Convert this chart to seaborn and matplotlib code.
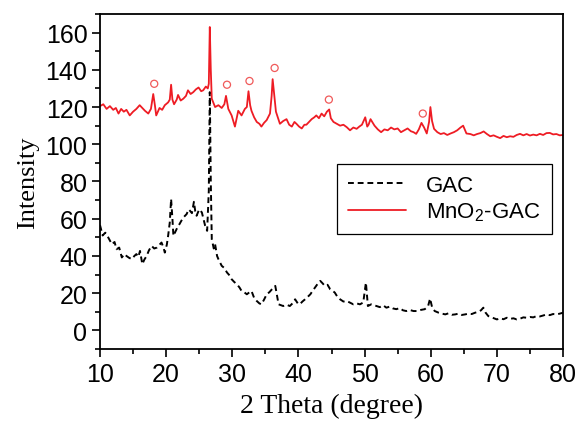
import matplotlib
matplotlib.use("Agg")
import matplotlib.pyplot as plt
import seaborn as sns
import pandas as pd
from matplotlib.ticker import MultipleLocator

# GAC pattern (black dashed)
gac_theta = [10, 10.4, 10.8, 11.25, 11.8, 12.2, 12.5, 12.9, 13.3, 13.7,
             14.0, 14.4, 14.8, 15.2, 15.5, 15.8, 16.05, 16.4, 16.7, 17.05,
             17.4, 17.8, 18.2, 18.6, 19.0, 19.3, 19.6, 19.8, 20.1, 20.3,
             20.55, 20.75, 20.95, 21.1, 21.4, 21.7, 22.0, 22.3, 22.7, 23.1,
             23.4, 23.6, 23.9, 24.2, 24.4, 24.6, 25.0, 25.4, 25.7, 25.9,
             26.2, 26.45, 26.6, 26.75, 26.9, 27.2, 27.4, 27.7, 27.9, 28.4,
             28.8, 29.2, 29.6, 29.9, 30.3, 30.7, 31.1, 31.4, 31.8, 32.2,
             32.6, 32.9, 33.3, 33.7, 34.1, 34.4, 34.8, 35.2, 35.6, 36.0,
             36.5, 36.8, 37.0, 37.4, 37.7, 38.2, 38.7, 39.1, 39.5, 39.9,
             40.2, 40.6, 41.0, 41.4, 41.8, 42.1, 42.5, 42.9, 43.3, 43.6,
             44.0, 44.4, 44.8, 45.1, 45.5, 45.9, 46.3, 46.8, 47.3, 47.8,
             48.3, 48.8, 49.3, 49.8, 50.2, 50.5, 51.0, 51.4, 51.8, 52.3,
             52.8, 53.3, 53.8, 54.3, 54.8, 55.3, 55.8, 56.3, 56.8, 57.4,
             57.9, 58.5, 59.1, 59.6, 59.9, 60.2, 60.6, 61.2, 61.7, 62.2,
             62.7, 63.2, 63.7, 64.2, 64.7, 65.2, 65.7, 66.2, 66.7, 67.2,
             67.6, 67.95, 68.3, 68.7, 69.2, 69.6, 70.0, 70.5, 71.0, 71.5,
             72.0, 72.5, 73.0, 73.5, 74.0, 74.5, 75.0, 75.5, 76.0, 76.5,
             77.0, 77.5, 78.0, 78.5, 79.0, 79.5, 80.0]
gac_intensity = [56.6, 51.0, 52.5, 49.9, 46.3, 47.5, 43.6, 44.5, 39.2, 41.0,
                 40.0, 39.0, 38.3, 40.0, 41.0, 39.5, 42.7, 35.6, 38.0, 40.0,
                 43.0, 45.4, 44.0, 44.5, 46.0, 47.2, 44.5, 41.8, 46.0, 50.8,
                 58.0, 70.6, 60.0, 50.8, 53.0, 55.3, 57.0, 58.9, 61.0, 62.5,
                 65.0, 64.3, 63.0, 69.1, 64.0, 61.6, 65.0, 63.4, 59.0, 56.2,
                 53.5, 75.0, 128.0, 80.0, 49.0, 44.0, 46.3, 40.0, 38.3, 34.7,
                 33.5, 31.1, 29.5, 27.5, 26.0, 24.8, 23.0, 21.2, 20.5, 19.4,
                 20.5, 21.2, 17.5, 15.8, 14.5, 14.0, 16.5, 19.4, 20.5, 22.1,
                 23.9, 18.0, 14.0, 13.5, 13.1, 13.8, 13.1, 14.5, 16.7, 14.5,
                 14.0, 15.5, 16.7, 18.0, 19.4, 21.0, 23.0, 25.0, 26.6, 25.5,
                 23.9, 24.5, 22.1, 21.5, 20.3, 18.0, 16.7, 15.5, 15.8, 14.9,
                 14.0, 14.5, 14.0, 15.0, 25.7, 13.1, 14.0, 13.5, 13.1, 12.5,
                 13.5, 12.2, 12.8, 11.8, 11.4, 12.0, 10.8, 10.4, 11.0, 10.4,
                 10.4, 11.0, 11.4, 13.0, 17.1, 12.5, 10.4, 9.5, 9.0, 8.6,
                 9.2, 8.4, 8.6, 9.0, 8.3, 8.6, 9.0, 8.8, 9.5, 10.0,
                 10.8, 12.2, 9.5, 7.7, 7.0, 6.5, 5.9, 6.5, 6.0, 6.8,
                 6.2, 6.5, 5.9, 6.3, 7.0, 6.8, 7.2, 7.0, 7.7, 7.5,
                 8.0, 8.6, 8.2, 8.8, 8.6, 9.0, 9.5]

# MnO2-GAC pattern (red solid)
mno2_theta = [10, 10.5, 11, 11.5, 12, 12.4, 12.8, 13.2, 13.6, 14.0,
              14.5, 15.0, 15.5, 16.0, 16.4, 16.8, 17.3, 17.7, 18.05, 18.3,
              18.5, 19.0, 19.4, 19.8, 20.3, 20.55, 20.75, 20.95, 21.2, 21.6,
              21.8, 22.2, 22.6, 23.0, 23.3, 23.7, 24.1, 24.5, 24.9, 25.3,
              25.6, 26.0, 26.3, 26.45, 26.6, 26.75, 26.9, 27.4, 27.9, 28.4,
              28.8, 29.05, 29.4, 29.9, 30.4, 30.9, 31.4, 31.9, 32.2, 32.45,
              32.7, 32.9, 33.3, 33.7, 34.1, 34.4, 34.8, 35.2, 35.7, 35.95,
              36.1, 36.3, 36.6, 37.2, 37.7, 38.2, 38.6, 39.0, 39.4, 39.7,
              40.1, 40.5, 40.9, 41.2, 41.6, 42.0, 42.4, 42.7, 43.1, 43.5,
              43.9, 44.3, 44.65, 44.9, 45.3, 45.8, 46.3, 46.8, 47.3, 47.8,
              48.3, 48.8, 49.2, 49.6, 50.1, 50.4, 50.6, 50.9, 51.5, 52.0,
              52.5, 53.0, 53.5, 54.0, 54.5, 55.0, 55.5, 56.0, 56.5, 57.0,
              57.4, 57.8, 58.2, 58.6, 59.0, 59.4, 59.75, 59.95, 60.2, 60.5,
              61.0, 61.5, 62.0, 62.5, 63.0, 63.5, 64.0, 64.5, 64.9, 65.4,
              66.0, 66.5, 67.0, 67.5, 68.0, 68.5, 69.0, 69.5, 70.0, 70.5,
              71.0, 71.5, 72.0, 72.5, 73.0, 73.5, 74.0, 74.5, 75.0, 75.5,
              76.0, 76.5, 77.0, 77.5, 78.0, 78.5, 79.0, 79.5, 80.0]
mno2_intensity = [120.5, 121.5, 119.0, 120.5, 118.5, 119.5, 116.5, 119.0, 117.5, 118.5,
                  115.5, 117.5, 119.0, 121.0, 119.5, 118.0, 116.5, 119.0, 127.0, 121.0,
                  115.5, 119.5, 118.5, 121.0, 122.5, 124.0, 132.0, 124.0, 121.5, 124.0,
                  126.5, 123.5, 124.5, 126.0, 129.0, 127.0, 128.0, 129.5, 130.5, 128.5,
                  129.0, 131.0, 130.0, 132.5, 163.0, 140.0, 124.5, 120.0, 121.0, 119.5,
                  121.5, 126.0, 119.0, 115.5, 109.5, 118.0, 115.5, 119.0, 120.0, 128.5,
                  121.0, 118.0, 114.5, 112.0, 111.0, 109.5, 111.5, 113.0, 116.5, 126.0,
                  135.0, 128.0, 117.5, 111.0, 112.5, 113.5, 110.5, 109.5, 112.0, 111.0,
                  109.5, 108.5, 110.5, 110.5, 112.0, 113.5, 114.5, 115.5, 114.0, 116.5,
                  115.0, 117.5, 118.7, 114.0, 112.0, 111.0, 110.0, 110.5, 109.2, 107.5,
                  109.0, 108.3, 109.5, 110.5, 114.5, 109.5, 110.5, 113.5, 110.0, 108.0,
                  106.5, 108.0, 107.5, 109.0, 108.0, 108.5, 106.5, 107.5, 108.5, 107.0,
                  106.5, 105.6, 108.0, 111.5, 109.0, 105.8, 112.0, 120.0, 112.5, 108.3,
                  106.5, 105.5, 106.0, 105.0, 105.8, 106.5, 107.5, 109.0, 110.0, 105.8,
                  105.5, 104.8, 105.5, 106.0, 106.9, 105.5, 104.3, 104.8, 104.0, 103.3,
                  104.5, 103.8, 104.3, 104.0, 105.0, 105.6, 104.8, 105.5, 104.7, 105.2,
                  104.8, 105.6, 105.0, 106.0, 106.1, 105.3, 105.5, 104.8, 105.0]

# MnO2 reflections marked with "o"
peak_theta = [18.2, 29.2, 32.6, 36.4, 44.6, 58.8]
peak_mark = [132.5, 132.0, 134.0, 141.0, 124.0, 116.5]

gac = pd.DataFrame({"theta": gac_theta, "intensity": gac_intensity})
mno2 = pd.DataFrame({"theta": mno2_theta, "intensity": mno2_intensity})
peaks = pd.DataFrame({"theta": peak_theta, "intensity": peak_mark})

sns.set_style("ticks")
plt.rcParams["font.family"] = ["Liberation Sans", "DejaVu Sans"]
plt.rcParams["mathtext.fontset"] = "custom"
plt.rcParams["mathtext.rm"] = "Liberation Sans"
plt.rcParams["mathtext.it"] = "Liberation Sans"
plt.rcParams["mathtext.default"] = "rm"
for key in ["text.color", "axes.labelcolor", "xtick.color", "ytick.color", "axes.edgecolor"]:
    plt.rcParams[key] = "black"

red = "#ee1c24"

fig = plt.figure(figsize=(5.82, 4.27), dpi=100)
ax = fig.add_axes([0.1718, 0.1803, 0.7956, 0.7846])

sns.lineplot(data=gac, x="theta", y="intensity", ax=ax, color="black",
             linewidth=1.4, linestyle=(0, (3, 2)), estimator=None, label="GAC")
sns.lineplot(data=mno2, x="theta", y="intensity", ax=ax, color=red,
             linewidth=1.3, estimator=None, label="MnO$_2$-GAC")
sns.scatterplot(data=peaks, x="theta", y="intensity", ax=ax, marker="o", s=26,
                facecolor="none", edgecolor="#f05a5a", linewidth=0.9)

ax.set_xlim(10, 80)
ax.set_ylim(-10, 170)
ax.xaxis.set_major_locator(MultipleLocator(10))
ax.xaxis.set_minor_locator(MultipleLocator(5))
ax.yaxis.set_minor_locator(MultipleLocator(10))
ax.set_yticks(range(0, 161, 20))
ax.tick_params(which="major", direction="out", length=6, width=1.2,
               labelsize=18, pad=3, top=False, right=False)
ax.tick_params(which="minor", direction="out", length=3.5, width=1.2,
               top=False, right=False)
for sp in ax.spines.values():
    sp.set_linewidth(1.3)
    sp.set_color("black")

ax.set_xlabel("2 Theta (degree)", family="Liberation Serif", fontsize=20, labelpad=5)
ax.set_ylabel("Intensity", family="Liberation Serif", fontsize=19, labelpad=5)

handles, labels = ax.get_legend_handles_labels()
leg = ax.legend(handles[:2], labels[:2], loc="upper right",
                bbox_to_anchor=(0.948, 0.6136), bbox_transform=fig.transFigure,
                borderaxespad=0, fontsize=16, handlelength=2.6, handletextpad=0.9,
                borderpad=0.5, labelspacing=0.2, fancybox=False, framealpha=1,
                edgecolor="black")
leg.get_frame().set_linewidth(0.9)

fig.savefig("out.png", dpi=100)
